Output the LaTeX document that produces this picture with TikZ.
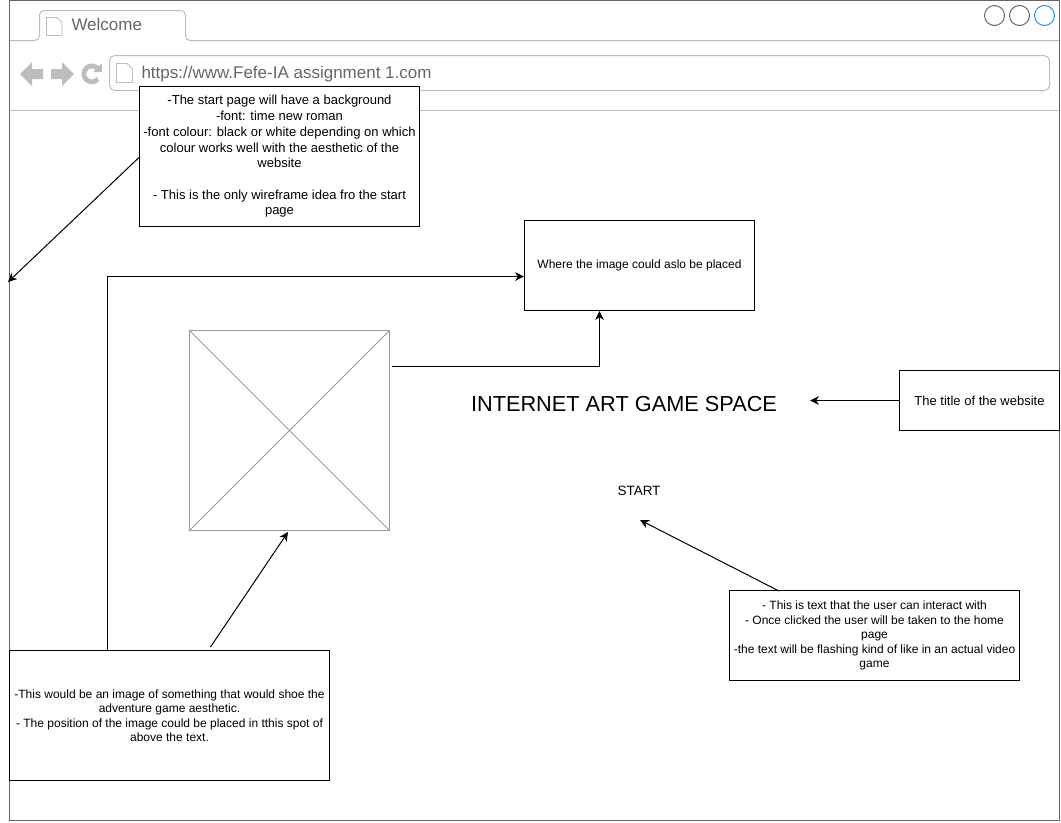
\documentclass[tikz,border=0pt]{standalone}
\usepackage{fontspec}
\setmainfont{Liberation Sans}
\usetikzlibrary{arrows.meta}
\definecolor{chromegray}{HTML}{BDBDBD}
\definecolor{frameline}{HTML}{666666}
\definecolor{tabtext}{HTML}{666666}
\definecolor{placeline}{HTML}{999999}
\definecolor{winblue}{HTML}{1E90FF}
\begin{document}
\begin{tikzpicture}[x=0.75pt,y=-0.75pt,line width=0.75pt,
  note/.style={shape=rectangle,draw=black,fill=white,align=center,inner sep=0pt,font=\fontsize{9}{10.8}\selectfont},
  bignote/.style={note,font=\fontsize{9.75}{11.8}\selectfont},
  chrome/.style={draw=chromegray},
  winbtn/.style={shape=circle,draw=frameline,minimum size=15pt,inner sep=0pt},
  icon/.style={draw=chromegray,fill=white,line width=0.6pt},
  glyph/.style={fill=chromegray,draw=none},
  label/.style={inner sep=0pt,text=tabtext,font=\fontsize{12.75}{15}\selectfont,anchor=west},
  link/.style={draw=black,-{Stealth[length=6.75pt,width=6.5pt]}}]
\useasboundingbox (0,0) rectangle (1061,822);

% browser window
\draw[chrome,rounded corners=3.5pt] (9.5,40.5) -- (39.5,40.5) -- (39.5,10.5) -- (185.5,10.5) -- (185.5,40.5) -- (1059.5,40.5);
\draw[chrome] (9.5,110.5) -- (1059.5,110.5);
\draw[chrome,rounded corners=4pt] (109.5,55.5) rectangle (1049.5,90.5);
\draw[frameline] (9.5,0.5) rectangle (1059.5,820.5);

\draw[icon] (46.5,17.5) -- (57,17.5) -- (62,22.5) -- (62,35.5) -- (46.5,35.5) -- cycle;
\draw[icon] (116.5,63.5) -- (127,63.5) -- (132.5,69) -- (132.5,82.5) -- (116.5,82.5) -- cycle;
\node[label] (welcome) at (71,24.5) {Welcome};
\node[label] (url) at (141,74) {https://www.Fefe-IA assignment 1.com};

% back, forward, reload
\fill[glyph] (20,74) -- (32,62) -- (32,69) -- (43,69) -- (43,79) -- (32,79) -- (32,86) -- cycle;
\fill[glyph] (74,74) -- (62,62) -- (62,69) -- (51,69) -- (51,79) -- (62,79) -- (62,86) -- cycle;
\draw[chromegray,line width=3.6pt] (98,79) arc[start angle=40,end angle=325,radius=8];
\fill[glyph] (93,72) -- (102,72) -- (102,63) -- cycle;

\node[winbtn] (closebtn) at (994.5,15.5) {};
\node[winbtn] (minbtn) at (1019.5,15.5) {};
\node[winbtn,draw=winblue] (maxbtn) at (1044.5,15.5) {};

% image placeholder
\node[shape=rectangle,draw=placeline,minimum width=150pt,minimum height=150pt,inner sep=0pt] (image) at (289.5,430.5) {};
\draw[placeline] (image.north west) -- (image.south east);
\draw[placeline] (image.north east) -- (image.south west);

% text on the page
\node[inner sep=0pt,font=\fontsize{16.3}{20}\selectfont] (title) at (624,404.5) {INTERNET ART GAME SPACE};
\node[inner sep=0pt,font=\fontsize{10.1}{12}\selectfont] (start) at (639,490.5) {START};

% notes
\node[bignote,minimum width=210pt,minimum height=105pt] (startnote) at (279.5,156.5) {-The start page will have a background\\-font: time new roman\\-font colour: black or white depending on which\\colour works well with the aesthetic of the\\website\\[11.8pt]- This is the only wireframe idea fro the start\\page};
\node[note,minimum width=172.5pt,minimum height=67.5pt] (where) at (639.5,265.5) {Where the image could aslo be placed};
\node[bignote,minimum width=120pt,minimum height=45pt] (titlenote) at (979.5,400.5) {The title of the website};
\node[note,minimum width=217.5pt,minimum height=67.5pt] (textnote) at (874.5,635.5) {- This is text that the user can interact with\\- Once clicked the user will be taken to the home\\page\\-the text will be flashing kind of like in an actual video\\game};
\node[note,minimum width=240pt,minimum height=97.5pt] (imagenote) at (169.5,715.5) {-This would be an image of something that would shoe the\\adventure game aesthetic.\\- The position of the image could be placed in tthis spot of\\above the text.};

% free ends
\coordinate (leftedge) at (8,282);
\coordinate (startnoteout) at (139.5,157);
\coordinate (imageout) at (392,366.5);
\coordinate (whereb) at (599.5,311);
\coordinate (wherein) at (524,276.5);
\coordinate (imagenoteup) at (107.5,650.5);
\coordinate (imagenotetip) at (210.5,647);
\coordinate (imagetip) at (288,532);
\coordinate (titlenoteout) at (899,400.5);
\coordinate (titletip) at (810,400.5);
\coordinate (textnoteout) at (779,591);
\coordinate (starttip) at (640,520);

\draw[link] (startnoteout) -- (leftedge);
\draw[link] (imageout) -| (whereb);
\draw[link] (imagenoteup) |- (wherein);
\draw[link] (imagenotetip) -- (imagetip);
\draw[link] (titlenoteout) -- (titletip);
\draw[link] (textnoteout) -- (starttip);
\end{tikzpicture}
\end{document}
